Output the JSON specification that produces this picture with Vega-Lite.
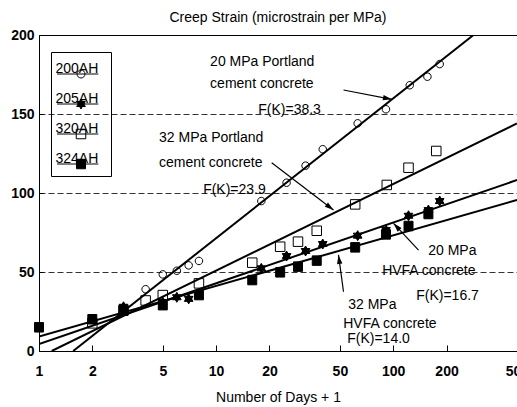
{
  "$schema": "https://vega.github.io/schema/vega-lite/v6.json",
  "width": 478,
  "height": 316,
  "autosize": {"type": "none"},
  "padding": {"left": 39, "top": 35, "right": 0, "bottom": 56},
  "title": {"text": "Creep Strain (microstrain per MPa)", "fontSize": 14, "fontWeight": "normal", "font": "Liberation Sans", "color": "black", "offset": 3, "anchor": "middle"},
  "config": {
    "view": {"stroke": "black", "strokeWidth": 1},
    "font": "Liberation Sans",
    "axis": {"domainColor": "black", "tickColor": "black", "labelColor": "black", "titleColor": "black", "labelFont": "Liberation Sans", "titleFont": "Liberation Sans"}
  },
  "resolve": {"scale": {"shape": "independent", "fill": "independent"}, "legend": {"shape": "independent", "fill": "independent"}},
  "datasets": {
    "points": [
      {"series": "200AH", "x": 4, "y": 39.1}, {"series": "200AH", "x": 5, "y": 48.5}, {"series": "200AH", "x": 6, "y": 50.8},
      {"series": "200AH", "x": 7, "y": 54.2}, {"series": "200AH", "x": 8, "y": 57.0}, {"series": "200AH", "x": 18, "y": 94.9},
      {"series": "200AH", "x": 25, "y": 106.5}, {"series": "200AH", "x": 32, "y": 117.3}, {"series": "200AH", "x": 40, "y": 127.7},
      {"series": "200AH", "x": 63, "y": 144.1}, {"series": "200AH", "x": 91, "y": 153.0}, {"series": "200AH", "x": 124, "y": 168.2},
      {"series": "200AH", "x": 156, "y": 173.6}, {"series": "200AH", "x": 183, "y": 181.6},
      {"series": "205AH", "x": 3, "y": 28}, {"series": "205AH", "x": 5, "y": 31}, {"series": "205AH", "x": 6, "y": 34},
      {"series": "205AH", "x": 7, "y": 33}, {"series": "205AH", "x": 18, "y": 52.3}, {"series": "205AH", "x": 25, "y": 60.1},
      {"series": "205AH", "x": 32, "y": 63.3}, {"series": "205AH", "x": 40, "y": 67.7}, {"series": "205AH", "x": 63, "y": 73.0},
      {"series": "205AH", "x": 91, "y": 76.6}, {"series": "205AH", "x": 122, "y": 85.6}, {"series": "205AH", "x": 158, "y": 89.2},
      {"series": "205AH", "x": 183, "y": 94.9},
      {"series": "320AH", "x": 2, "y": 17.5}, {"series": "320AH", "x": 3, "y": 26}, {"series": "320AH", "x": 4, "y": 32},
      {"series": "320AH", "x": 5, "y": 35.4}, {"series": "320AH", "x": 8, "y": 42.8}, {"series": "320AH", "x": 16, "y": 55.9},
      {"series": "320AH", "x": 23, "y": 66.0}, {"series": "320AH", "x": 29, "y": 69.2}, {"series": "320AH", "x": 37, "y": 76.1},
      {"series": "320AH", "x": 61, "y": 92.8}, {"series": "320AH", "x": 92, "y": 105.1}, {"series": "320AH", "x": 122, "y": 116.0},
      {"series": "320AH", "x": 175, "y": 126.6},
      {"series": "324AH", "x": 1, "y": 15}, {"series": "324AH", "x": 2, "y": 20.1}, {"series": "324AH", "x": 3, "y": 25.5},
      {"series": "324AH", "x": 5, "y": 29}, {"series": "324AH", "x": 8, "y": 35.4}, {"series": "324AH", "x": 16, "y": 44.9},
      {"series": "324AH", "x": 23, "y": 49.8}, {"series": "324AH", "x": 29, "y": 53.4}, {"series": "324AH", "x": 37, "y": 57.2},
      {"series": "324AH", "x": 61, "y": 65.6}, {"series": "324AH", "x": 91, "y": 73.8}, {"series": "324AH", "x": 122, "y": 79.1},
      {"series": "324AH", "x": 158, "y": 86.7}
    ],
    "fits": [
      {"fit": "20 MPa PC", "x": 1.56, "y": 0}, {"fit": "20 MPa PC", "x": 284, "y": 200},
      {"fit": "32 MPa PC", "x": 1.18, "y": 0}, {"fit": "32 MPa PC", "x": 500, "y": 144},
      {"fit": "20 MPa HVFA", "x": 1, "y": 4.4}, {"fit": "20 MPa HVFA", "x": 500, "y": 108.2},
      {"fit": "32 MPa HVFA", "x": 1, "y": 9.1}, {"fit": "32 MPa HVFA", "x": 500, "y": 95.6}
    ],
    "labels": [
      {"x": 9.25, "y": 182.6, "text": "20 MPa Portland"},
      {"x": 9.25, "y": 168.7, "text": "cement concrete"},
      {"x": 17.3, "y": 152.8, "text": "F(K)=38.3"},
      {"x": 4.76, "y": 135.1, "text": "32 MPa Portland"},
      {"x": 4.76, "y": 118.7, "text": "cement concrete"},
      {"x": 8.45, "y": 102.2, "text": "F(K)=23.9"},
      {"x": 157.7, "y": 63.6, "text": "20 MPa"},
      {"x": 86.6, "y": 50.9, "text": "HVFA concrete"},
      {"x": 134.9, "y": 35.1, "text": "F(K)=16.7"},
      {"x": 55.7, "y": 28.8, "text": "32 MPa"},
      {"x": 52.2, "y": 17.4, "text": "HVFA concrete"},
      {"x": 55.0, "y": 7.3, "text": "F(K)=14.0"}
    ],
    "arrows": [
      {"x": 52.4, "y": 165.2, "x2": 98.3, "y2": 159.3, "angle": 100.9},
      {"x": 20.6, "y": 119.2, "x2": 46.0, "y2": 89.2, "angle": 127.5},
      {"x": 139, "y": 63.9, "x2": 100.4, "y2": 80.8, "angle": -42.8},
      {"x": 52.4, "y": 37.5, "x2": 49.1, "y2": 60.8, "angle": -7.8}
    ]
  },
  "layer": [
    {
      "data": {"name": "fits"},
      "mark": {"type": "line", "color": "black", "strokeWidth": 2, "clip": true},
      "encoding": {
        "x": {"field": "x", "type": "quantitative",
          "scale": {"type": "log", "domain": [1, 500], "nice": false},
          "axis": {"values": [1, 2, 5, 10, 20, 50, 100, 200, 500], "format": "d", "title": "Number of Days + 1",
            "titleFontSize": 14, "titleFontWeight": "normal", "titlePadding": 12,
            "labelFontSize": 14, "labelFontWeight": "bold", "labelPadding": 19, "labelFlush": false, "labelOverlap": false,
            "tickSize": -6, "grid": false}},
        "y": {"field": "y", "type": "quantitative",
          "scale": {"domain": [0, 200], "nice": false},
          "axis": {"values": [0, 25, 50, 75, 100, 125, 150, 175, 200], "title": null,
            "labelExpr": "datum.value % 50 === 0 ? datum.label : ''",
            "labelFontSize": 14, "labelFontWeight": "bold", "labelPadding": 9,
            "tickSize": -4, "grid": true, "gridColor": "#333", "gridDash": [6, 3], "gridWidth": 1,
            "gridOpacity": {"condition": {"test": "datum.value > 0 && datum.value < 200 && datum.value % 50 === 0", "value": 1}, "value": 0}}},
        "detail": {"field": "fit"}
      }
    },
    {
      "data": {"name": "points"},
      "mark": {"type": "point", "stroke": "black", "strokeWidth": 1, "opacity": 1, "size": 100},
      "encoding": {
        "x": {"field": "x", "type": "quantitative"},
        "y": {"field": "y", "type": "quantitative"},
        "shape": {"field": "series", "type": "nominal",
          "scale": {
            "range": ["M0.75,0A0.75,0.75,0,1,1,-0.75,0A0.75,0.75,0,1,1,0.75,0Z",
                      "M0,-1L0.866,0.5L-0.866,0.5ZM0,1L-0.866,-0.5L0.866,-0.5Z",
                      "M-0.95,-0.95H0.95V0.95H-0.95Z",
                      "M-0.9,-0.95H0.9V0.95H-0.9Z"]},
          "legend": null},
        "fill": {"field": "series", "type": "nominal",
          "scale": {"range": ["transparent", "black", "transparent", "black"]},
          "legend": null}
      }
    },
    {
      "data": {"name": "points"},
      "transform": [{"filter": "datum.x < 0"}],
      "mark": {"type": "point", "stroke": "black", "strokeWidth": 1, "opacity": 1},
      "encoding": {
        "shape": {"field": "series", "type": "nominal",
          "scale": {"domain": ["200AH", "205AH", "320AH", "324AH"],
            "range": ["M-0.96,0.04H0.96M0.16,0.04A0.16,0.16,0,1,1,-0.16,0.04A0.16,0.16,0,1,1,0.16,0.04Z",
                      "M-0.96,0.04H0.96M0,-0.16L0.173,0.14L-0.173,0.14ZM0,0.24L-0.173,-0.06L0.173,-0.06Z",
                      "M-0.96,0.04H0.96M-0.19,-0.15H0.19V0.23H-0.19Z",
                      "M-0.96,0.04H0.96M-0.18,-0.15H0.18V0.23H-0.18Z"]},
          "legend": {"orient": "none", "legendX": 12, "legendY": 17, "title": "________________", "titleFontSize": 6, "titleFont": "Liberation Sans", "titleColor": "transparent", "titlePadding": 2,
            "strokeColor": "black", "padding": 3, "symbolSize": 2500, "clipHeight": 20, "symbolOffset": 1.5,
            "labelFontSize": 14, "labelFont": "Liberation Sans", "labelColor": "black", "labelOffset": -51, "labelBaseline": "alphabetic",
            "rowPadding": 9, "symbolStrokeWidth": 1, "symbolOpacity": 1}},
        "fill": {"field": "series", "type": "nominal",
          "scale": {"domain": ["200AH", "205AH", "320AH", "324AH"], "range": ["transparent", "black", "transparent", "black"]},
          "legend": {"orient": "none", "legendX": 12, "legendY": 17, "title": "________________", "titleFontSize": 6, "titleFont": "Liberation Sans", "titleColor": "transparent", "titlePadding": 2,
            "strokeColor": "black", "padding": 3, "symbolSize": 2500, "clipHeight": 20, "symbolOffset": 1.5,
            "labelFontSize": 14, "labelFont": "Liberation Sans", "labelColor": "black", "labelOffset": -51, "labelBaseline": "alphabetic",
            "rowPadding": 9, "symbolStrokeWidth": 1, "symbolOpacity": 1}}
      }
    },
    {
      "data": {"name": "arrows"},
      "mark": {"type": "rule", "color": "black", "strokeWidth": 1.2},
      "encoding": {
        "x": {"field": "x", "type": "quantitative"},
        "y": {"field": "y", "type": "quantitative"},
        "x2": {"field": "x2"},
        "y2": {"field": "y2"}
      }
    },
    {
      "data": {"name": "arrows"},
      "mark": {"type": "point", "shape": "M0,0L0.6,2L-0.6,2Z", "filled": true, "color": "black", "opacity": 1, "size": 80, "strokeWidth": 0},
      "encoding": {
        "x": {"field": "x2", "type": "quantitative"},
        "y": {"field": "y2", "type": "quantitative"},
        "angle": {"field": "angle", "type": "quantitative", "scale": null}
      }
    },
    {
      "data": {"name": "labels"},
      "mark": {"type": "text", "align": "left", "baseline": "middle", "fontSize": 14, "font": "Liberation Sans", "color": "black"},
      "encoding": {
        "x": {"field": "x", "type": "quantitative"},
        "y": {"field": "y", "type": "quantitative"},
        "text": {"field": "text"}
      }
    }
  ]
}
